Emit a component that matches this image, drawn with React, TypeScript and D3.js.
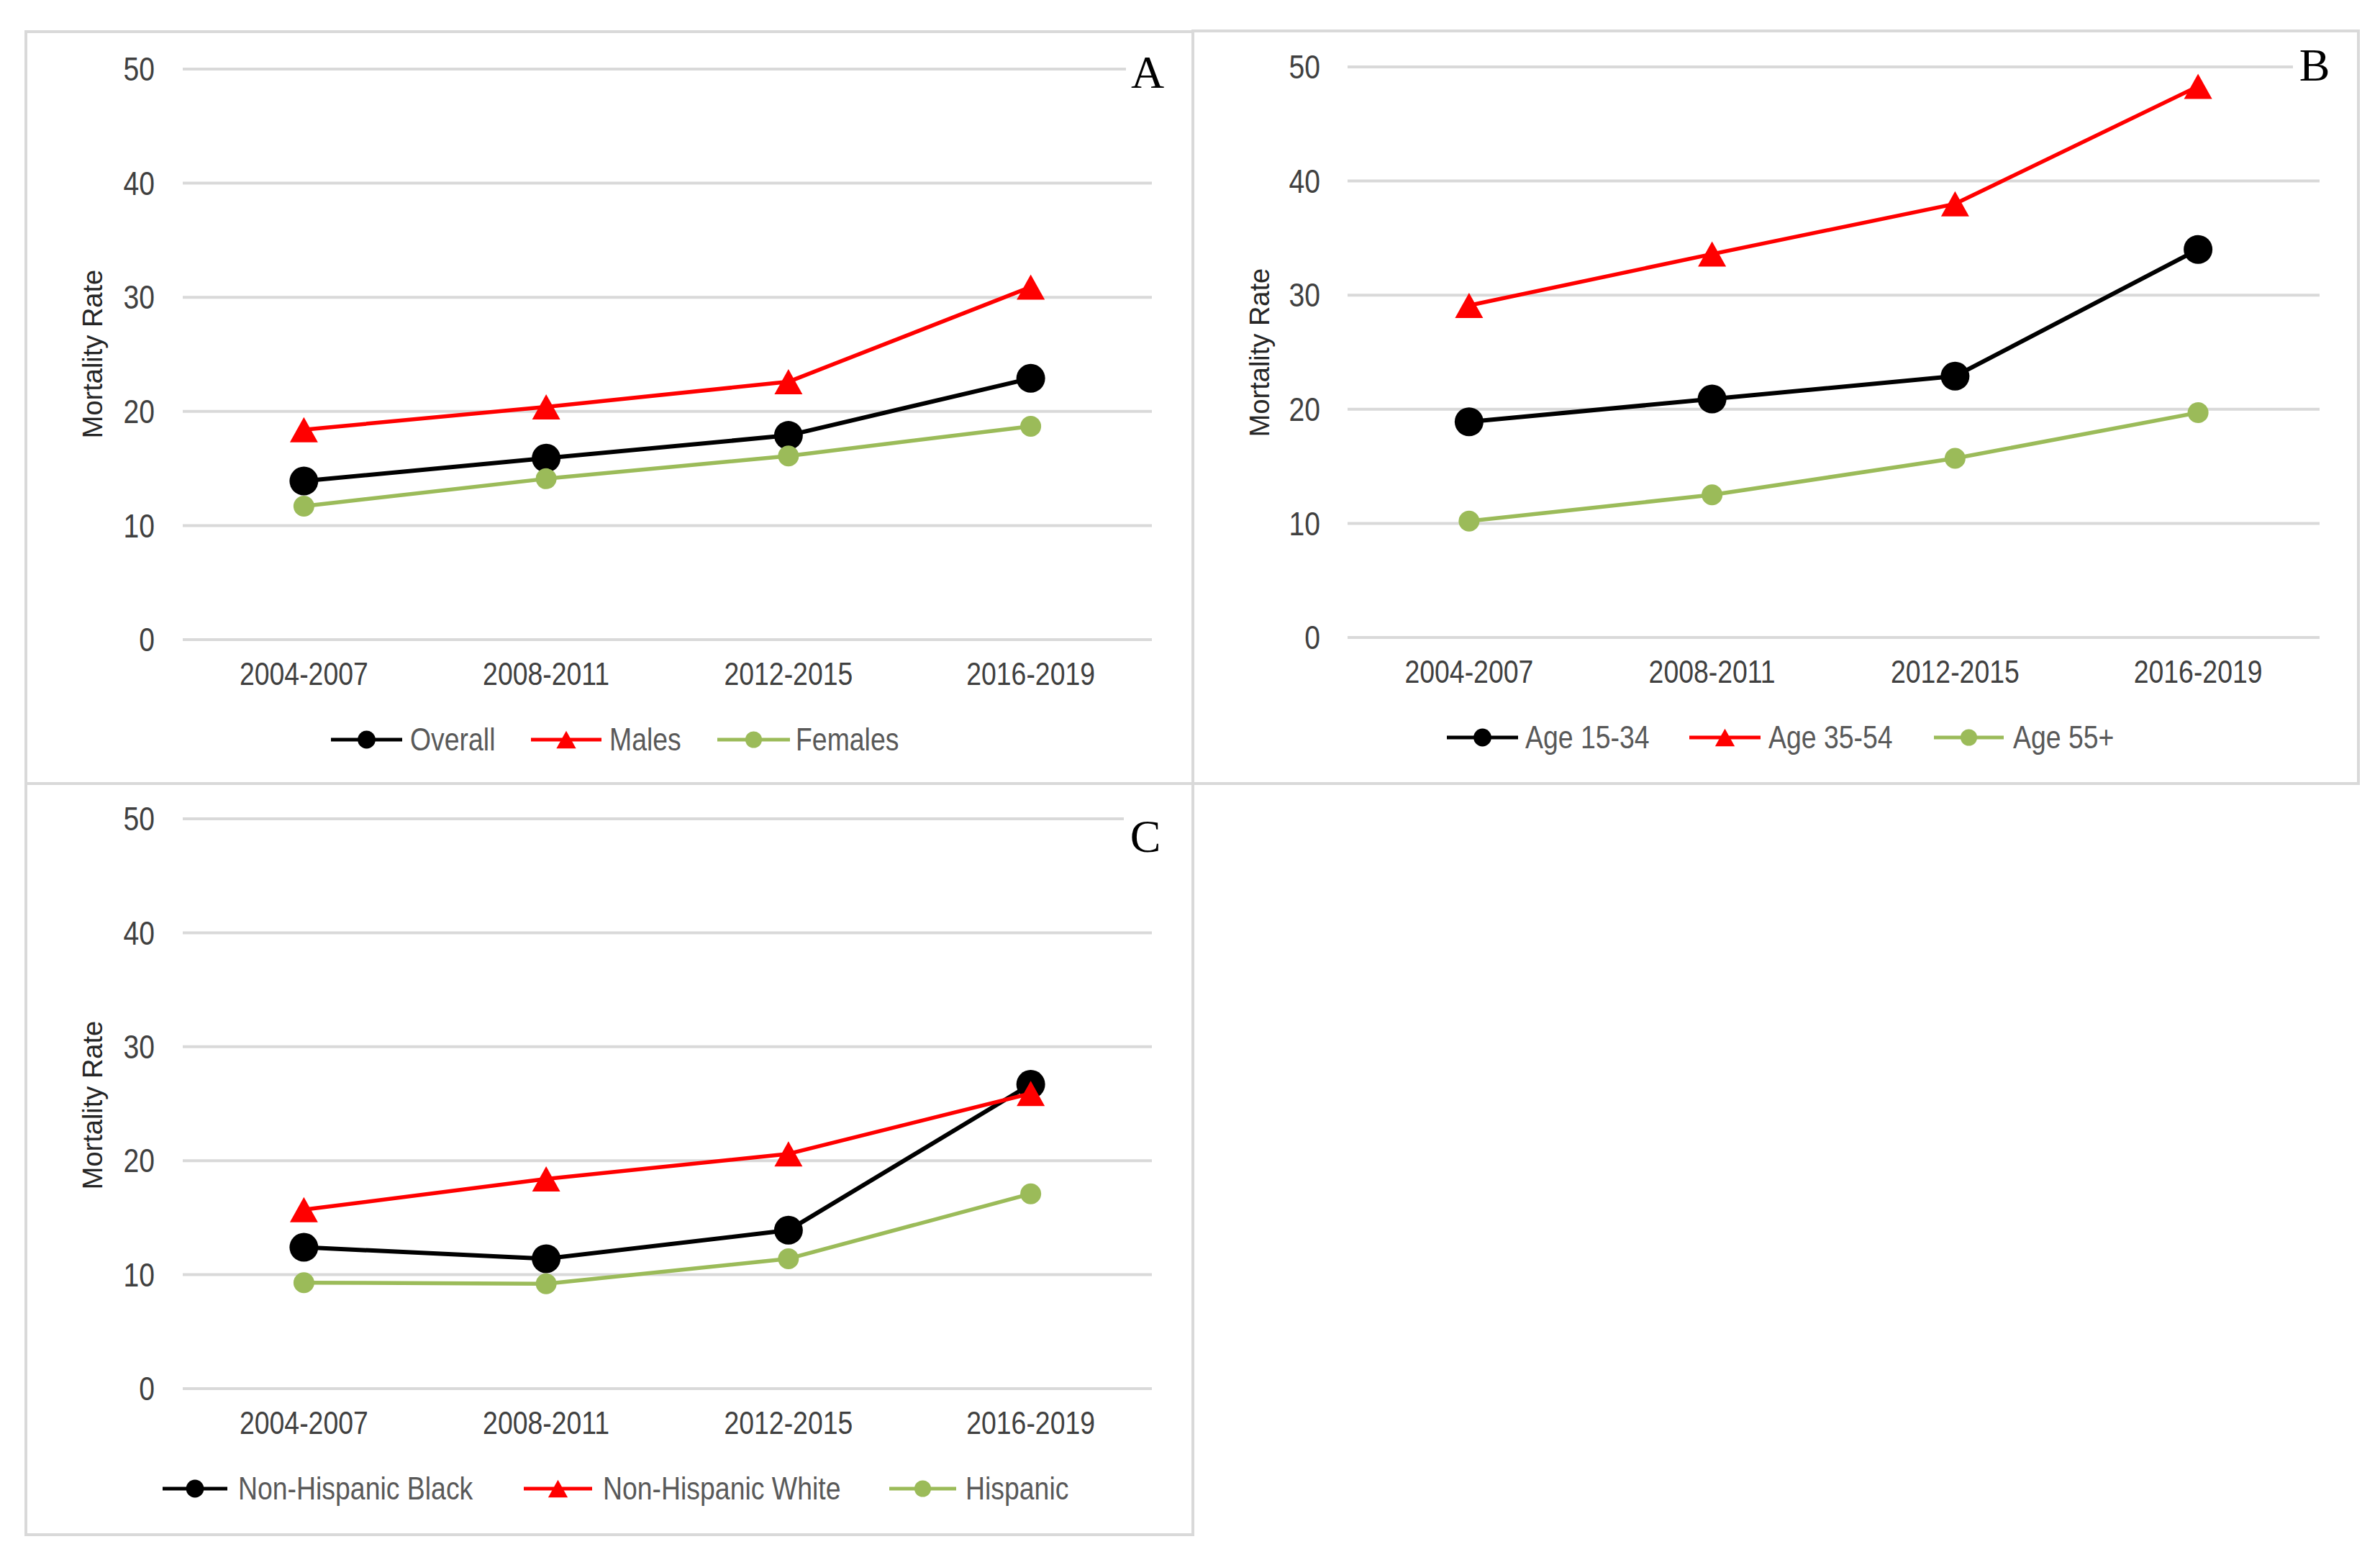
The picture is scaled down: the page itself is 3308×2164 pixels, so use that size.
import React from "react";
import * as d3 from "d3";

const categories = ["2004-2007", "2008-2011", "2012-2015", "2016-2019"];
const yTicks = [0, 10, 20, 30, 40, 50];

// Panel A
const overall = [13.9, 15.9, 17.9, 22.9];
const males = [18.4, 20.4, 22.6, 30.9];
const females = [11.7, 14.1, 16.1, 18.7];

// Panel B
const age15to34 = [18.9, 20.9, 22.9, 34.0];
const age35to54 = [29.1, 33.6, 38.0, 48.3];
const age55plus = [10.2, 12.5, 15.7, 19.7];

// Panel C
const nhBlack = [12.4, 11.4, 13.9, 26.7];
const nhWhite = [15.7, 18.4, 20.6, 25.9];
const hispanic = [9.3, 9.2, 11.4, 17.1];

const BLACK = "#000000";
const RED = "#ff0000";
const GREEN = "#9bbb59";

type Series = { name: string; values: number[]; color: string; marker: "bigCircle" | "triangle" | "smallCircle" };

type Panel = {
  letter: string;
  border: [number, number, number, number];
  x0: number; x1: number; y0: number; y50: number;
  yLabelRight: number;
  titleX: number; titleY: number;
  letterX: number; letterY: number;
  legend: { lineStart: number; lineEnd: number; textX: number }[];
  series: Series[];
};

const panels: Panel[] = [
  {
    letter: "A",
    border: [36, 44, 1658, 1089],
    x0: 254, x1: 1601, y0: 889, y50: 96,
    yLabelRight: 215,
    titleX: 129, titleY: 492,
    letterX: 1595, letterY: 122,
    legend: [
      { lineStart: 460, lineEnd: 559, textX: 570 },
      { lineStart: 738, lineEnd: 836, textX: 847 },
      { lineStart: 997, lineEnd: 1098, textX: 1106 },
    ],
    series: [
      { name: "Overall", values: overall, color: BLACK, marker: "bigCircle" },
      { name: "Males", values: males, color: RED, marker: "triangle" },
      { name: "Females", values: females, color: GREEN, marker: "smallCircle" },
    ],
  },
  {
    letter: "B",
    border: [1658, 43, 3278, 1089],
    x0: 1873, x1: 3224, y0: 886, y50: 93,
    yLabelRight: 1835,
    titleX: 1751, titleY: 490,
    letterX: 3217, letterY: 112,
    legend: [
      { lineStart: 2011, lineEnd: 2110, textX: 2120 },
      { lineStart: 2348, lineEnd: 2447, textX: 2458 },
      { lineStart: 2688, lineEnd: 2785, textX: 2798 },
    ],
    series: [
      { name: "Age 15-34", values: age15to34, color: BLACK, marker: "bigCircle" },
      { name: "Age 35-54", values: age35to54, color: RED, marker: "triangle" },
      { name: "Age 55+", values: age55plus, color: GREEN, marker: "smallCircle" },
    ],
  },
  {
    letter: "C",
    border: [36, 1089, 1658, 2133],
    x0: 254, x1: 1601, y0: 1930, y50: 1138,
    yLabelRight: 215,
    titleX: 129, titleY: 1536,
    letterX: 1592, letterY: 1184,
    legend: [
      { lineStart: 226, lineEnd: 316, textX: 331 },
      { lineStart: 728, lineEnd: 823, textX: 838 },
      { lineStart: 1236, lineEnd: 1329, textX: 1342 },
    ],
    series: [
      { name: "Non-Hispanic Black", values: nhBlack, color: BLACK, marker: "bigCircle" },
      { name: "Non-Hispanic White", values: nhWhite, color: RED, marker: "triangle" },
      { name: "Hispanic", values: hispanic, color: GREEN, marker: "smallCircle" },
    ],
  },
];

const SANS = "'Liberation Sans', Arial, sans-serif";
const SERIF = "'Liberation Serif', 'Times New Roman', serif";
const SQ = 0.85;

function SqText(props: { x: number; y: number; anchor: "start" | "middle" | "end"; fill: string; size: number; children: React.ReactNode }) {
  return (
    <g transform={`translate(${props.x},${props.y}) scale(${SQ},1)`}>
      <text x={0} y={0} dy="0.35em" textAnchor={props.anchor} fill={props.fill} fontSize={props.size} fontFamily={SANS}>
        {props.children}
      </text>
    </g>
  );
}

function Marker(props: { kind: Series["marker"]; color: string; x: number; y: number; scale?: number }) {
  const s = props.scale ?? 1;
  if (props.kind === "triangle") {
    const w = 39 * s, h = 35 * s;
    const p = d3.path();
    p.moveTo(props.x, props.y - h / 2);
    p.lineTo(props.x + w / 2, props.y + h / 2);
    p.lineTo(props.x - w / 2, props.y + h / 2);
    p.closePath();
    return <path d={p.toString()} fill={props.color} />;
  }
  const r = (props.kind === "bigCircle" ? 20 : 14.5) * s;
  return <circle cx={props.x} cy={props.y} r={r} fill={props.color} />;
}

function PanelView({ p }: { p: Panel }) {
  const x = d3.scalePoint<string>().domain(categories).range([p.x0, p.x1]).padding(0.5);
  const y = d3.scaleLinear().domain([0, 50]).range([p.y0, p.y50]);
  const line = d3.line<number>().x((_, i) => x(categories[i]) as number).y((v) => y(v));
  const [bx0, by0, bx1, by1] = p.border;
  const xLabelY = p.y0 + 48;
  const legendY = p.y0 + 139;
  const lineWidth: Record<string, number> = { bigCircle: 6, triangle: 5.5, smallCircle: 5.5 };
  return (
    <g>
      <rect x={bx0} y={by0} width={bx1 - bx0} height={by1 - by0} fill="#ffffff" stroke="#d9d9d9" strokeWidth={4} />
      {yTicks.map((t) => (
        <g key={t}>
          <line x1={p.x0} x2={p.x1} y1={y(t)} y2={y(t)} stroke="#d9d9d9" strokeWidth={4} />
          <SqText x={p.yLabelRight} y={y(t)} anchor="end" fill="#404040" size={46}>{t}</SqText>
        </g>
      ))}
      {categories.map((c) => (
        <SqText key={c} x={x(c) as number} y={xLabelY} anchor="middle" fill="#404040" size={44}>{c}</SqText>
      ))}
      <text
        transform={`translate(${p.titleX},${p.titleY}) rotate(-90)`}
        textAnchor="middle"
        dy="0.35em"
        fontSize={38}
        fontFamily={SANS}
        fill="#262626"
      >
        Mortality Rate
      </text>
      {p.series.map((s) => (
        <g key={s.name}>
          <path d={line(s.values) as string} fill="none" stroke={s.color} strokeWidth={lineWidth[s.marker]} strokeLinejoin="round" />
          {s.values.map((v, i) => (
            <Marker key={i} kind={s.marker} color={s.color} x={x(categories[i]) as number} y={y(v)} />
          ))}
        </g>
      ))}
      {p.series.map((s, i) => {
        const L = p.legend[i];
        const mx = (L.lineStart + L.lineEnd) / 2;
        return (
          <g key={"lg" + s.name}>
            <line x1={L.lineStart} x2={L.lineEnd} y1={legendY} y2={legendY} stroke={s.color} strokeWidth={5} />
            <Marker kind={s.marker} color={s.color} x={mx} y={legendY} scale={s.marker === "bigCircle" ? 0.62 : s.marker === "triangle" ? 0.7 : 0.8} />
            <SqText x={L.textX} y={legendY} anchor="start" fill="#595959" size={44}>{s.name}</SqText>
          </g>
        );
      })}
      <rect x={p.letterX - 30} y={p.letterY - 50} width={60} height={62} fill="#ffffff" />
      <text x={p.letterX} y={p.letterY} textAnchor="middle" fontSize={64} fontFamily={SERIF} fill="#000000">
        {p.letter}
      </text>
    </g>
  );
}

export default function App() {
  return (
    <svg
      width={3308}
      height={2164}
      viewBox="0 0 3308 2164"
      style={{ position: "absolute", left: 0, top: 0, background: "#ffffff" }}
    >
      <rect x={0} y={0} width={3308} height={2164} fill="#ffffff" />
      {panels.map((p) => (
        <PanelView key={p.letter} p={p} />
      ))}
    </svg>
  );
}
